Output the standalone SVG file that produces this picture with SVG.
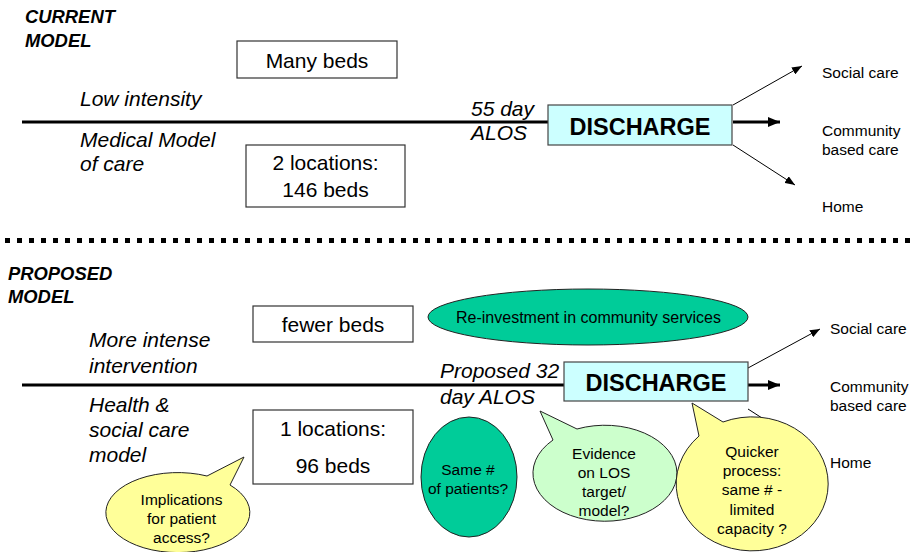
<svg xmlns="http://www.w3.org/2000/svg" width="912" height="552" viewBox="0 0 912 552">
<defs>
<marker id="headThick" markerUnits="userSpaceOnUse" markerWidth="13" markerHeight="10" refX="12" refY="5" orient="auto"><path d="M0,0 L12,5 L0,10 Z" fill="#000"/></marker>
<marker id="headThin" markerUnits="userSpaceOnUse" markerWidth="11" markerHeight="8" refX="10" refY="4" orient="auto"><path d="M0,0 L10,4 L0,8 Z" fill="#000"/></marker>
<style>
text{font-family:"Liberation Sans",Arial,sans-serif;fill:#000}
.title{font-size:18.4px;font-weight:bold;font-style:italic}
.it{font-size:21px;font-style:italic}
.box{fill:#fff;stroke:#333;stroke-width:1.2}
.bt{font-size:21px;text-anchor:middle}
.dis{fill:#CCFFFF;stroke:#444;stroke-width:1.2}
.dt{font-size:23.5px;font-weight:bold;text-anchor:middle}
.out{font-size:15.5px}
.ct{font-size:15.5px;text-anchor:middle}
.teal{fill:#00CC99;stroke:#222;stroke-width:1}
.lg{fill:#CCFFCC;stroke:#222;stroke-width:1}
.yel{fill:#FFFF99;stroke:#222;stroke-width:1}
.main{stroke:#000;stroke-width:3;fill:none}
.thick{stroke:#000;stroke-width:3;fill:none;marker-end:url(#headThick)}
.thin{stroke:#000;stroke-width:1;fill:none;marker-end:url(#headThin)}
</style>
</defs>
<rect width="912" height="552" fill="#fff"/>

<g id="connectors">
<line class="main" x1="22" y1="122" x2="548" y2="122"/>
<line class="thick" x1="733" y1="122" x2="780" y2="122"/>
<line class="thin" x1="733" y1="105" x2="802" y2="66"/>
<line class="thin" x1="733" y1="145" x2="795" y2="185"/>
<line x1="5" y1="240.5" x2="912" y2="240.5" stroke="#000" stroke-width="5" stroke-dasharray="5 7"/>
<line class="main" x1="22" y1="385" x2="564" y2="385"/>
<line class="thick" x1="748" y1="385" x2="780" y2="385"/>
<line class="thin" x1="748" y1="368" x2="820" y2="329"/>
<line class="thin" x1="748" y1="409" x2="810" y2="449"/>
</g>

<g id="current-title"><text class="title" x="25" y="23">CURRENT</text><text class="title" x="25" y="47">MODEL</text></g>
<g id="many-beds"><rect class="box" x="237" y="41" width="160" height="37"/><text class="bt" x="317" y="68">Many beds</text></g>
<g id="low-intensity"><text class="it" x="80" y="106">Low intensity</text></g>
<g id="medical-model"><text class="it" x="80" y="147">Medical Model</text><text class="it" x="80" y="171">of care</text></g>
<g id="two-locations"><rect class="box" x="246" y="145" width="159" height="62"/><text class="bt" x="325.5" y="170">2 locations:</text><text class="bt" x="325.5" y="197">146 beds</text></g>
<g id="alos-55"><text class="it" x="471" y="116">55 day</text><text class="it" x="471" y="140">ALOS</text></g>
<g id="discharge-current"><rect class="dis" x="548" y="105" width="184" height="40"/><text class="dt" x="640" y="135">DISCHARGE</text></g>
<g id="out-current"><text class="out" x="822" y="78">Social care</text><text class="out" x="822" y="136">Community</text><text class="out" x="822" y="155">based care</text><text class="out" x="822" y="212">Home</text></g>

<g id="proposed-title"><text class="title" x="8" y="280">PROPOSED</text><text class="title" x="8" y="303">MODEL</text></g>
<g id="fewer-beds"><rect class="box" x="253" y="306" width="160" height="36"/><text class="bt" x="333" y="332">fewer beds</text></g>
<g id="more-intense"><text class="it" x="89" y="347">More intense</text><text class="it" x="89" y="373">intervention</text></g>
<g id="health-social"><text class="it" x="89" y="412">Health &amp;</text><text class="it" x="89" y="437">social care</text><text class="it" x="89" y="462">model</text></g>
<g id="one-location"><rect class="box" x="253" y="410" width="160" height="74"/><text class="bt" x="333" y="436">1 locations:</text><text class="bt" x="333" y="473">96 beds</text></g>
<g id="reinvestment"><ellipse class="teal" cx="588" cy="317" rx="160" ry="28"/><text class="ct" style="font-size:16px" x="588.5" y="323">Re-investment in community services</text></g>
<g id="alos-32"><text class="it" x="440" y="378">Proposed 32</text><text class="it" x="440" y="404">day ALOS</text></g>
<g id="discharge-proposed"><rect class="dis" x="564" y="362" width="184" height="39"/><text class="dt" x="656" y="391">DISCHARGE</text></g>
<g id="out-proposed"><text class="out" x="830" y="334">Social care</text><text class="out" x="830" y="392">Community</text><text class="out" x="830" y="411">based care</text><text class="out" x="830" y="468">Home</text></g>

<g id="same-patients"><ellipse class="teal" cx="469" cy="477" rx="48" ry="60"/><text class="ct" x="468" y="475">Same #</text><text class="ct" x="468" y="494">of patients?</text></g>
<g id="evidence"><path class="lg" d="M553,440 L540,411 L577,429 A72,48 0 1 1 553,440 Z"/><text class="ct" x="604" y="459">Evidence</text><text class="ct" x="604" y="478">on LOS</text><text class="ct" x="604" y="497">target/</text><text class="ct" x="604" y="516">model?</text></g>
<g id="quicker"><path class="yel" d="M699,436 L692,403 L723,422 A76,67 0 1 1 699,436 Z"/><text class="ct" x="752" y="457">Quicker</text><text class="ct" x="752" y="476">process:</text><text class="ct" x="752" y="495">same # -</text><text class="ct" x="752" y="515">limited</text><text class="ct" x="752" y="534">capacity ?</text></g>
<g id="implications"><path class="yel" d="M207,476 L244,457 L230,485 A72,40 0 1 1 207,476 Z"/><text class="ct" x="181.5" y="505">Implications</text><text class="ct" x="181.5" y="524">for patient</text><text class="ct" x="181.5" y="543">access?</text></g>
</svg>
